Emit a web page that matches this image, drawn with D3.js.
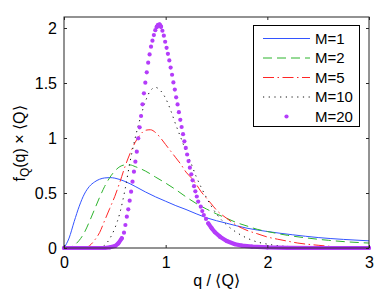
<!DOCTYPE html>
<html>
<head>
<meta charset="utf-8">
<script src="https://cdn.jsdelivr.net/npm/d3@7"></script>
<style>
  body { margin: 0; background: #fff; }
  svg text { font-family: "Liberation Sans", Arial, Helvetica, sans-serif; fill: #000; }
</style>
</head>
<body>
<svg id="chart" width="382" height="295"></svg>
<script>
// series labels
const labels = ["M=1", "M=2", "M=5", "M=10", "M=20"];

// [q/<Q>, f_Q(q) x <Q>]
const m1 = [[0,0],[0.05,0.09],[0.1,0.24],[0.15,0.38],[0.2,0.49],[0.25,0.56],[0.3,0.6],[0.35,0.625],
  [0.4,0.637],[0.45,0.64],[0.5,0.635],[0.6,0.605],[0.7,0.56],[0.8,0.51],[0.9,0.465],[1.0,0.425],
  [1.1,0.385],[1.2,0.35],[1.4,0.275],[1.6,0.225],[1.8,0.18],[2.0,0.15],[2.25,0.12],[2.5,0.095],
  [2.75,0.078],[3.0,0.065]];

const m2 = [[0,0],[0.05,0.003],[0.1,0.025],[0.15,0.07],[0.2,0.14],[0.25,0.24],[0.3,0.35],[0.35,0.46],
  [0.4,0.56],[0.45,0.64],[0.5,0.7],[0.55,0.74],[0.6,0.755],[0.65,0.755],[0.7,0.74],[0.8,0.7],
  [0.9,0.645],[1.0,0.59],[1.1,0.53],[1.2,0.465],[1.3,0.405],[1.4,0.355],[1.5,0.31],[1.6,0.27],
  [1.7,0.23],[1.8,0.2],[1.9,0.17],[2.0,0.15],[2.2,0.115],[2.4,0.09],[2.6,0.07],[2.8,0.055],[3.0,0.045]];

const m5 = [[0,0],[0.2,0.003],[0.25,0.02],[0.3,0.07],[0.35,0.14],[0.4,0.25],[0.45,0.36],[0.5,0.47],
  [0.55,0.6],[0.6,0.74],[0.65,0.86],[0.7,0.96],[0.75,1.03],[0.8,1.07],[0.85,1.075],[0.9,1.05],
  [0.95,1.0],[1.0,0.94],[1.05,0.88],[1.1,0.82],[1.15,0.76],[1.2,0.69],[1.25,0.64],[1.3,0.58],
  [1.35,0.51],[1.4,0.455],[1.45,0.4],[1.5,0.345],[1.6,0.27],[1.7,0.205],[1.8,0.16],[1.9,0.13],
  [2.0,0.1],[2.1,0.08],[2.2,0.062],[2.3,0.045],[2.5,0.025],[2.7,0.01],[3.0,0.004]];

const m10 = [[0,0],[0.3,0],[0.35,0.005],[0.4,0.025],[0.45,0.085],[0.5,0.18],[0.55,0.32],[0.6,0.53],
  [0.65,0.785],[0.7,1.0],[0.75,1.18],[0.8,1.33],[0.85,1.43],[0.9,1.46],[0.95,1.43],[1.0,1.36],
  [1.05,1.25],[1.1,1.12],[1.15,1.0],[1.2,0.88],[1.25,0.77],[1.3,0.65],[1.35,0.55],[1.4,0.46],
  [1.5,0.31],[1.6,0.21],[1.7,0.14],[1.8,0.09],[1.9,0.055],[2.0,0.035],[2.2,0.013],[2.4,0.005],
  [2.7,0.001],[3.0,0]];

const m20 = [[0,0],[0.4,0],[0.452,0.006],[0.502,0.018],[0.534,0.042],[0.568,0.088],[0.59,0.139],
  [0.604,0.209],[0.618,0.285],[0.632,0.352],[0.646,0.43],[0.66,0.512],[0.674,0.603],[0.688,0.694],
  [0.702,0.785],[0.716,0.876],[0.73,0.997],[0.744,1.097],[0.758,1.2],[0.772,1.306],[0.786,1.406],
  [0.8,1.503],[0.814,1.597],[0.828,1.685],[0.842,1.76],[0.856,1.83],[0.87,1.885],[0.884,1.936],
  [0.898,1.98],[0.912,2.01],[0.926,2.028],[0.94,2.032],[0.954,2.012],[0.968,1.975],[0.982,1.93],
  [0.995,1.875],[1.009,1.82],[1.022,1.765],[1.036,1.705],[1.049,1.64],[1.063,1.575],[1.076,1.505],
  [1.09,1.44],[1.103,1.37],[1.117,1.305],[1.13,1.235],[1.144,1.165],[1.157,1.1],[1.171,1.035],
  [1.184,0.97],[1.198,0.91],[1.211,0.85],[1.225,0.79],[1.238,0.73],[1.252,0.67],[1.265,0.615],
  [1.279,0.562],[1.292,0.515],[1.306,0.468],[1.32,0.422],[1.345,0.376],[1.36,0.336],[1.375,0.3],
  [1.397,0.264],[1.419,0.224],[1.453,0.179],[1.485,0.143],[1.534,0.103],[1.6,0.064],[1.682,0.034],
  [1.75,0.022],[1.85,0.012],[2.0,0.005],[2.2,0.001],[2.5,0],[3.0,0]];

const xTicks = [0, 1, 2, 3];
const yTicks = [0, 0.5, 1, 1.5, 2];

const pLeft = 64, pRight = 369, pTop = 17, pBottom = 248;

const svg = d3.select("#chart");

const x = d3.scaleLinear().domain([0, 3]).range([pLeft, pRight]);
const y = d3.scaleLinear().domain([0, 2.1]).range([pBottom, pTop]);

const line = d3.line()
    .x(d => x(d[0]))
    .y(d => y(d[1]))
    .curve(d3.curveMonotoneX);

const styles = [
  { color: "#3354ff", dash: null },
  { color: "#2db42d", dash: "9,5" },
  { color: "#ff2626", dash: "11,3.5,1.5,3.5" },
  { color: "#111", dash: "1.2,4.5" }
];
const purple = "#b43cfa";

// curves M=1..10
[m1, m2, m5, m10].forEach((s, i) => {
  svg.append("path")
      .datum(s)
      .attr("d", line)
      .attr("fill", "none")
      .attr("stroke", styles[i].color)
      .attr("stroke-width", 1)
      .attr("stroke-dasharray", styles[i].dash);
});

// M=20: dense markers, they merge into a band where the curve is flat
let runs = [], cur = [m20[0]];
for (let i = 1; i < m20.length; i++) {
  const a = m20[i - 1], b = m20[i];
  const slope = Math.abs((y(b[1]) - y(a[1])) / (x(b[0]) - x(a[0])));
  if (slope < 1.6) {
    cur.push(b);
  } else {
    if (cur.length > 1) runs.push(cur);
    cur = [b];
  }
}
if (cur.length > 1) runs.push(cur);

svg.append("g")
    .selectAll("path")
    .data(runs)
    .join("path")
    .attr("d", d3.line().x(d => x(d[0])).y(d => y(d[1])))
    .attr("fill", "none")
    .attr("stroke", purple)
    .attr("stroke-width", 4.2)
    .attr("stroke-linecap", "round")
    .attr("stroke-linejoin", "round");

svg.append("g")
    .selectAll("circle")
    .data(m20)
    .join("circle")
    .attr("cx", d => x(d[0]))
    .attr("cy", d => y(d[1]))
    .attr("r", 2.1)
    .attr("fill", purple);

// axes box with inward ticks
const axisColor = "#262626";
svg.append("rect")
    .attr("x", pLeft).attr("y", pTop)
    .attr("width", pRight - pLeft).attr("height", pBottom - pTop)
    .attr("fill", "none")
    .attr("stroke", axisColor)
    .attr("stroke-width", 1);

const bottomAxis = svg.append("g")
    .attr("transform", `translate(0,${pBottom})`)
    .call(d3.axisBottom(x).tickValues(xTicks).tickSizeInner(-3).tickSizeOuter(0).tickPadding(9).tickFormat(d3.format("d")));
const topAxis = svg.append("g")
    .attr("transform", `translate(0,${pTop})`)
    .call(d3.axisTop(x).tickValues(xTicks).tickSizeInner(-3).tickSizeOuter(0).tickFormat(""));
const leftAxis = svg.append("g")
    .attr("transform", `translate(${pLeft},0)`)
    .call(d3.axisLeft(y).tickValues(yTicks).tickSizeInner(-3).tickSizeOuter(0).tickPadding(7).tickFormat(d => d));
const rightAxis = svg.append("g")
    .attr("transform", `translate(${pRight},0)`)
    .call(d3.axisRight(y).tickValues(yTicks).tickSizeInner(-3).tickSizeOuter(0).tickFormat(""));

[bottomAxis, topAxis, leftAxis, rightAxis].forEach(g => {
  g.select(".domain").remove();
  g.selectAll("line").attr("stroke", axisColor);
  g.selectAll("text").attr("font-size", 16).attr("font-family", null).attr("fill", "#000");
});

// axis labels
svg.append("text")
    .attr("x", (pLeft + pRight) / 2)
    .attr("y", 286)
    .attr("text-anchor", "middle")
    .attr("font-size", 16)
    .text("q / \u27E8Q\u27E9");

const ylab = svg.append("text")
    .attr("transform", `translate(25,${(pTop + pBottom) / 2 + 11}) rotate(-90)`)
    .attr("text-anchor", "middle")
    .attr("font-size", 16);
ylab.append("tspan").text("f");
ylab.append("tspan").attr("font-size", 12).attr("dy", 4).text("Q");
ylab.append("tspan").attr("dy", -4).text("(q) \u00D7 \u27E8Q\u27E9");

// legend
const lg = svg.append("g");
lg.append("rect")
    .attr("x", 253.5).attr("y", 25.5)
    .attr("width", 106).attr("height", 101)
    .attr("fill", "#fff")
    .attr("stroke", "#000")
    .attr("stroke-width", 1);

const rowY = i => 38.5 + i * 19.5;

lg.selectAll(".entry-line")
    .data(styles)
    .join("line")
    .attr("x1", 263).attr("x2", 310)
    .attr("y1", (d, i) => rowY(i)).attr("y2", (d, i) => rowY(i))
    .attr("stroke", d => d.color)
    .attr("stroke-width", 1)
    .attr("stroke-dasharray", d => d.dash);

lg.append("circle")
    .attr("cx", 286.5).attr("cy", rowY(4))
    .attr("r", 2.1)
    .attr("fill", purple);

lg.selectAll(".entry-text")
    .data(labels)
    .join("text")
    .attr("x", 315)
    .attr("y", (d, i) => rowY(i))
    .attr("dy", "0.36em")
    .attr("font-size", 15)
    .text(d => d);
</script>
</body>
</html>
